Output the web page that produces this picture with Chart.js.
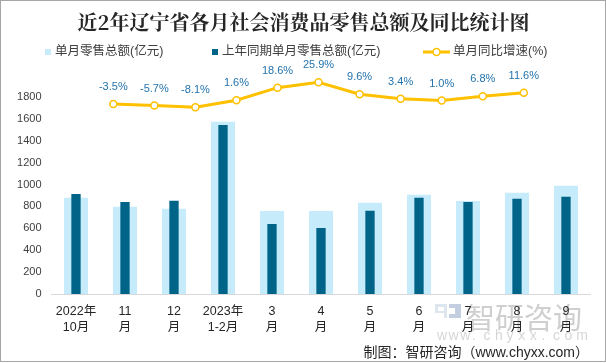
<!DOCTYPE html>
<html>
<head>
<meta charset="utf-8">
<script src="https://cdn.jsdelivr.net/npm/chart.js@4/dist/chart.umd.min.js"></script>
<style>
  html, body { margin: 0; padding: 0; background: #fff; }
  #wrap { width: 606px; height: 363px; }
</style>
</head>
<body>
<div id="wrap"><canvas id="chart" width="606" height="363"></canvas></div>
<script>
const categories = [
  ["2022年", "10月"], ["11", "月"], ["12", "月"], ["2023年", "1-2月"],
  ["3", "月"], ["4", "月"], ["5", "月"], ["6", "月"], ["7", "月"], ["8", "月"], ["9", "月"]
];
const retailSales = [879, 797, 779, 1573, 758, 758, 834, 907, 849, 925, 989];
const lastYearSales = [913, 840, 852, 1543, 639, 602, 760, 879, 840, 870, 888];
const growthRate = [-3.5, -5.7, -8.1, 1.6, 18.6, 25.9, 9.6, 3.4, 1.0, 6.8, 11.6];
const yTicks = [0, 200, 400, 600, 800, 1000, 1200, 1400, 1600, 1800];

const seriesNames = ["单月零售总额(亿元)", "上年同期单月零售总额(亿元)", "单月同比增速(%)"];
const LIGHT = "#C6EBFA";
const DARK = "#006488";
const YELLOW = "#FFC000";
const LATIN_CJK = '"Liberation Sans", "Noto Sans CJK SC", sans-serif';

// title, legend, footer, border
const decorPlugin = {
  id: "decor",
  beforeDraw(chart) {
    const ctx = chart.ctx;
    ctx.save();
    // watermark logo
    ctx.fillStyle = "#DDE5EF";
    ctx.fillRect(435, 304, 12, 14);
    ctx.fillStyle = "#fff";
    ctx.fillRect(438, 307, 6, 4);
    ctx.fillRect(435, 313, 9, 5);
    ctx.fillStyle = "#C3CFE0";
    ctx.fillRect(449, 304, 12, 4);
    ctx.fillRect(455, 304, 6, 14);
    ctx.fillRect(449, 314, 12, 4);
    ctx.fillStyle = "#CFCFCF";
    ctx.font = '29px "Noto Sans CJK SC", sans-serif';
    ctx.textAlign = "left";
    ctx.textBaseline = "middle";
    ctx.fillText("智研咨询", 466, 318);
    ctx.fillStyle = "#D6D6D6";
    ctx.font = '14px "Liberation Sans", sans-serif';
    const wm = "www.chyxx.com".split("");
    wm.forEach((c, i) => ctx.fillText(c, 437 + i * 11.6, 336));
    ctx.restore();
  },
  afterDraw(chart) {
    const ctx = chart.ctx;
    ctx.save();
    ctx.textBaseline = "middle";

    ctx.fillStyle = "#262626";
    ctx.textAlign = "center";
    ctx.font = 'bold 20px "Noto Serif CJK SC", "Noto Sans CJK SC", serif';
    ctx.fillText("近2年辽宁省各月社会消费品零售总额及同比统计图", 303.5, 22);

    ctx.font = "12.5px " + LATIN_CJK;
    ctx.textAlign = "left";
    ctx.fillStyle = LIGHT;
    ctx.fillRect(45, 49, 6, 6);
    ctx.fillStyle = DARK;
    ctx.fillRect(212, 49, 6, 6);
    ctx.strokeStyle = YELLOW;
    ctx.lineWidth = 3;
    ctx.beginPath();
    ctx.moveTo(423, 52);
    ctx.lineTo(450, 52);
    ctx.stroke();
    ctx.fillStyle = "#fff";
    ctx.lineWidth = 1.5;
    ctx.beginPath();
    ctx.arc(436.5, 52, 3.5, 0, Math.PI * 2);
    ctx.fill();
    ctx.stroke();
    ctx.fillStyle = "#404040";
    ctx.fillText(seriesNames[0], 55, 52);
    ctx.fillText(seriesNames[1], 222, 52);
    ctx.fillText(seriesNames[2], 453, 52);

    ctx.fillStyle = "#262626";
    ctx.textAlign = "right";
    ctx.font = "14px " + LATIN_CJK;
    ctx.fillText("制图：智研咨询（www.chyxx.com）", 589, 353);

    ctx.strokeStyle = "#A6A6A6";
    ctx.lineWidth = 1;
    ctx.strokeRect(0.5, 0.5, 605, 361);
    ctx.restore();
  }
};

// percent labels above the line points
const pointLabels = {
  id: "pointLabels",
  afterDatasetsDraw(chart) {
    const meta = chart.getDatasetMeta(0);
    const ctx = chart.ctx;
    ctx.save();
    ctx.font = '11px "Liberation Sans", sans-serif';
    ctx.fillStyle = "#2373AD";
    ctx.textAlign = "center";
    ctx.textBaseline = "middle";
    meta.data.forEach((pt, i) => {
      ctx.fillText(growthRate[i].toFixed(1) + "%", pt.x, pt.y - 17);
    });
    ctx.restore();
  }
};

new Chart(document.getElementById("chart"), {
  type: "bar",
  data: {
    labels: categories,
    datasets: [
      {
        type: "line",
        label: seriesNames[2],
        data: growthRate.map((v, i) => ({ x: i, y: v })),
        xAxisID: "x2",
        yAxisID: "y1",
        borderColor: YELLOW,
        borderWidth: 3,
        pointRadius: 3.5,
        pointBorderWidth: 1.5,
        pointBackgroundColor: "#fff",
        pointBorderColor: YELLOW,
        tension: 0,
        order: 0
      },
      {
        label: seriesNames[1],
        data: lastYearSales,
        backgroundColor: DARK,
        grouped: false,
        barPercentage: 0.19,
        categoryPercentage: 1,
        order: 1
      },
      {
        label: seriesNames[0],
        data: retailSales,
        backgroundColor: LIGHT,
        grouped: false,
        barPercentage: 0.49,
        categoryPercentage: 1,
        order: 2
      }
    ]
  },
  options: {
    responsive: false,
    animation: false,
    layout: { padding: { top: 75, right: 15.5, left: 0, bottom: 0 } },
    plugins: {
      legend: { display: false },
      title: { display: false },
      tooltip: { enabled: false }
    },
    scales: {
      x: {
        grid: { display: false, drawTicks: false },
        border: { color: "#D9D9D9" },
        ticks: {
          color: "#262626",
          font: { size: 12.5, family: LATIN_CJK, lineHeight: 1.3 },
          padding: 9,
          maxRotation: 0,
          autoSkip: false
        },
        afterFit(scale) { scale.height = 69; }
      },
      x2: { type: "linear", display: false, min: -0.412, max: 10.531 },
      y: {
        min: 0,
        max: 2000,
        afterBuildTicks(scale) { scale.ticks = yTicks.map(v => ({ value: v })); },
        grid: { display: false, drawTicks: false },
        border: { display: false },
        ticks: {
          color: "#404040",
          font: { size: 11, family: '"Liberation Sans", sans-serif' },
          padding: 10,
          callback: value => String(value)
        },
        afterFit(scale) { scale.width = 51.5; }
      },
      y1: { display: false, min: -262.1, max: 35.85 }
    }
  },
  plugins: [decorPlugin, pointLabels]
});
</script>
</body>
</html>
